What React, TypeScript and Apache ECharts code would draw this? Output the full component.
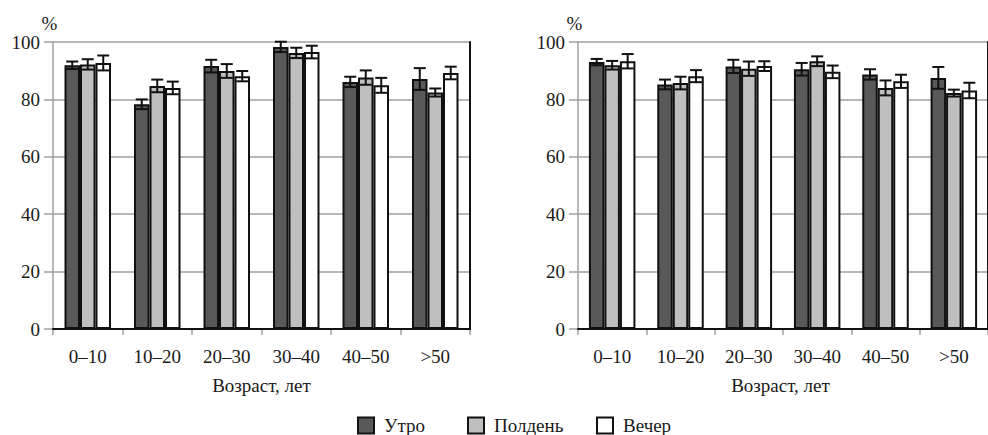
import React, { useEffect, useRef } from "react";
import * as echarts from "echarts";

const categories = ["0–10", "10–20", "20–30", "30–40", "40–50", ">50"];
const seriesNames = ["Утро", "Полдень", "Вечер"];
const yTicks = { min: 0, max: 100, interval: 20 };

// Left chart
const leftMorning = [91.9, 78.3, 91.6, 98.3, 86.1, 87.1];
const leftMorningErr = [1.3, 1.7, 2.2, 1.8, 1.8, 3.8];
const leftNoon = [92.2, 84.7, 89.9, 96.2, 87.6, 82.4];
const leftNoonErr = [1.8, 2.2, 2.4, 1.8, 2.5, 1.4];
const leftEvening = [92.7, 84.0, 88.1, 96.5, 84.9, 89.2];
const leftEveningErr = [2.6, 2.2, 1.8, 2.2, 2.6, 2.2];

// Right chart
const rightMorning = [93.0, 85.2, 91.5, 90.5, 88.7, 87.5];
const rightMorningErr = [1.1, 1.7, 2.3, 2.2, 1.8, 3.8];
const rightNoon = [91.9, 85.7, 90.7, 93.3, 84.0, 82.2];
const rightNoonErr = [1.5, 2.2, 2.5, 1.7, 2.6, 1.2];
const rightEvening = [93.3, 88.1, 91.6, 89.6, 86.3, 83.1];
const rightEveningErr = [2.5, 2.1, 1.7, 2.2, 2.3, 2.7];

const xName = "Возраст, лет";
const yName = "%";

const FONT = "Liberation Serif";
const TEXT = "#1a1a1a";
const COLORS = ["#595959", "#bfbfbf", "#ffffff"];
const GRID_GREY = "#a0a0a0";
const BAR_W = 15.5;

export default function App() {
  const ref = useRef<HTMLDivElement>(null);

  useEffect(() => {
    if (!ref.current) return;
    const chart = echarts.init(ref.current, null, { renderer: "svg" });

    const grids = [
      { left: 53, top: 42, width: 417, height: 287 },
      { left: 578, top: 42, width: 416, height: 287 },
    ];

    const xAxes: any[] = [];
    const yAxes: any[] = [];
    grids.forEach((_, g) => {
      xAxes.push({
        type: "category",
        gridIndex: g,
        data: categories,
        position: "bottom",
        axisLine: { show: true, lineStyle: { color: GRID_GREY, width: 1.5 } },
        axisTick: { show: true, length: 6, lineStyle: { color: GRID_GREY, width: 1.5 } },
        axisLabel: { fontFamily: FONT, fontSize: 19, color: TEXT, margin: 18 },
        name: xName,
        nameLocation: "middle",
        nameGap: 47,
        nameTextStyle: {
          fontFamily: FONT,
          fontSize: 19,
          color: TEXT,
          padding: g === 1 ? [0, 5, 0, 0] : 0,
        },
        splitLine: { show: false },
      });
      xAxes.push({
        type: "category",
        gridIndex: g,
        data: categories,
        position: "top",
        z: 5,
        axisLine: { show: true, lineStyle: { color: "#111", width: 2 } },
        axisTick: { show: false },
        axisLabel: { show: false },
        splitLine: { show: false },
      });
      yAxes.push({
        type: "value",
        gridIndex: g,
        min: yTicks.min,
        max: yTicks.max,
        interval: yTicks.interval,
        position: "left",
        axisLine: { show: true, lineStyle: { color: GRID_GREY, width: 1.5 } },
        axisTick: { show: true, length: 9, lineStyle: { color: GRID_GREY, width: 1.5 } },
        axisLabel: { fontFamily: FONT, fontSize: 19, color: TEXT, margin: 13 },
        splitLine: { show: true, lineStyle: { color: GRID_GREY, width: 1.5 } },
        name: yName,
        nameLocation: "end",
        nameGap: 8,
        nameTextStyle: { fontFamily: FONT, fontSize: 19, color: TEXT, padding: [0, 7, 0, 0] },
      });
      yAxes.push({
        type: "value",
        gridIndex: g,
        min: yTicks.min,
        max: yTicks.max,
        interval: yTicks.interval,
        position: "right",
        z: 5,
        axisLine: { show: true, lineStyle: { color: "#111", width: 2 } },
        axisTick: { show: false },
        axisLabel: { show: false },
        splitLine: { show: false },
      });
    });

    const sets = [
      { vals: [leftMorning, leftNoon, leftEvening], errs: [leftMorningErr, leftNoonErr, leftEveningErr] },
      { vals: [rightMorning, rightNoon, rightEvening], errs: [rightMorningErr, rightNoonErr, rightEveningErr] },
    ];

    const series: any[] = [];
    sets.forEach((set, g) => {
      set.vals.forEach((vals, k) => {
        series.push({
          type: "bar",
          name: seriesNames[k],
          xAxisIndex: g * 2,
          yAxisIndex: g * 2,
          data: vals,
          barWidth: BAR_W,
          barGap: "0%",
          itemStyle: { color: COLORS[k], borderColor: "#111", borderWidth: 2 },
          z: 2,
        });
      });
      set.vals.forEach((vals, k) => {
        const offset = (k - 1) * BAR_W;
        const errs = set.errs[k];
        series.push({
          type: "custom",
          name: "err-" + g + "-" + k,
          xAxisIndex: g * 2,
          yAxisIndex: g * 2,
          z: 4,
          data: vals.map((v, i) => [i, v - errs[i], v + errs[i]]),
          encode: { x: 0, y: [1, 2] },
          renderItem: (params: any, api: any) => {
            const i = api.value(0);
            const lo = api.coord([i, api.value(1)]);
            const hi = api.coord([i, api.value(2)]);
            const x = lo[0] + offset;
            const cap = 6;
            const style = { stroke: "#111", lineWidth: 2 };
            return {
              type: "group",
              children: [
                { type: "line", shape: { x1: x, y1: hi[1], x2: x, y2: lo[1] }, style },
                { type: "line", shape: { x1: x - cap, y1: hi[1], x2: x + cap, y2: hi[1] }, style },
                { type: "line", shape: { x1: x - cap, y1: lo[1], x2: x + cap, y2: lo[1] }, style },
              ],
            };
          },
        });
      });
    });

    const legendLefts = [357, 467, 596];
    const legends = seriesNames.map((n, k) => ({
      data: [n],
      left: legendLefts[k],
      top: 416,
      padding: 0,
      itemWidth: 16,
      itemHeight: 16,
      icon: "rect",
      selectedMode: false,
      itemStyle: { color: COLORS[k], borderColor: "#111", borderWidth: 2 },
      textStyle: { fontFamily: FONT, fontSize: 19, color: TEXT, padding: [0, 0, 0, 5] },
    }));

    chart.setOption({
      animation: false,
      backgroundColor: "#ffffff",
      textStyle: { fontFamily: FONT },
      grid: grids,
      xAxis: xAxes,
      yAxis: yAxes,
      legend: legends,
      series,
    });

    return () => chart.dispose();
  }, []);

  return (
    <div
      ref={ref}
      style={{ position: "absolute", left: 0, top: 0, width: 988, height: 435, overflow: "hidden" }}
    />
  );
}
